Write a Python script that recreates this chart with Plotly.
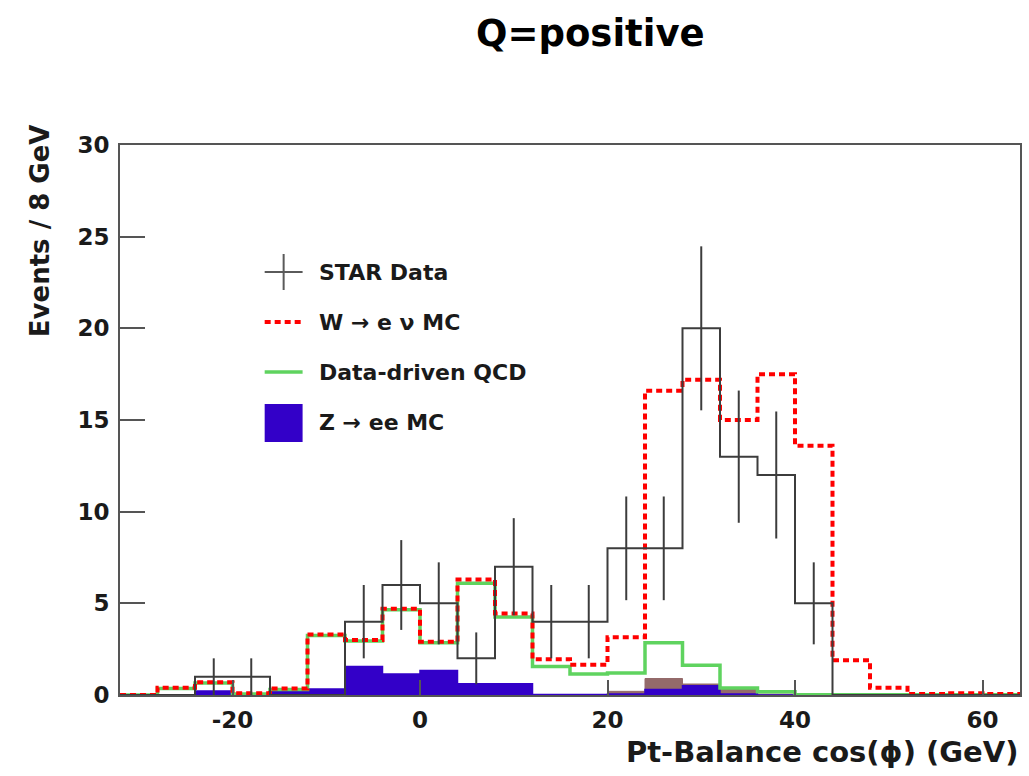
import numpy as np
import plotly.graph_objects as go

# 4 GeV bins from -32 to 64 GeV
bin_edges = [-32, -28, -24, -20, -16, -12, -8, -4, 0, 4, 8, 12, 16, 20,
             24, 28, 32, 36, 40, 44, 48, 52, 56, 60, 64]

star_data = [0, 0, 1, 1, 0, 0, 4, 6, 5, 2, 7, 4, 4, 8, 8, 20, 13, 12, 5, 0, 0, 0, 0, 0]
w_enu_mc = [0, 0.4, 0.7, 0.1, 0.35, 3.3, 3.0, 4.7, 2.9, 6.3, 4.45, 1.95, 1.65, 3.15,
            16.6, 17.2, 15.0, 17.5, 13.6, 1.9, 0.4, 0.05, 0.1, 0.05]
qcd_data_driven = [0, 0.35, 0.65, 0.05, 0.3, 3.25, 2.95, 4.65, 2.85, 6.1, 4.25, 1.55, 1.15, 1.2,
                   2.85, 1.62, 0.38, 0.18, 0.02, 0.02, 0.02, 0.02, 0.02, 0.02]
z_ee_mc = [0, 0, 0.22, 0, 0.25, 0.33, 1.55, 1.15, 1.33, 0.62, 0.62, 0.03, 0.03, 0.05,
           0.3, 0.5, 0.05, 0, 0, 0, 0, 0, 0, 0]
other_mc = [0, 0, 0, 0, 0, 0, 0, 0, 0, 0, 0, 0, 0, 0.2,
            0.9, 0.6, 0.3, 0.05, 0, 0, 0, 0, 0, 0]

x_tick_vals = [-20, 0, 20, 40, 60]
x_tick_text = ["-20", "0", "20", "40", "60"]
y_tick_vals = [0, 5, 10, 15, 20, 25, 30]

FONT = "DejaVu Sans"
AXIS_GREY = "#555555"

# plot area in pixels (for placing legend and titles)
W, H = 1029, 776
L, R, T, B = 120, 1022, 145, 695


def px_x(p):
    return (p - L) / (R - L)


def px_y(p):
    return (B - p) / (B - T)


def step(vals):
    return bin_edges, list(vals) + [vals[-1]]


fig = go.Figure()

# filled MC components
sx, sy = step(other_mc)
fig.add_trace(go.Scatter(x=sx, y=sy, mode="lines", line_shape="hv",
                         line=dict(color="#946a6a", width=1), fill="tozeroy",
                         fillcolor="#946a6a", showlegend=False, hoverinfo="skip"))
sx, sy = step(z_ee_mc)
fig.add_trace(go.Scatter(x=sx, y=sy, mode="lines", line_shape="hv",
                         line=dict(color="#3300c8", width=1.5), fill="tozeroy",
                         fillcolor="#3300c8", name="Z → ee MC", showlegend=False))

# QCD and W outlines
sx, sy = step(qcd_data_driven)
fig.add_trace(go.Scatter(x=sx, y=sy, mode="lines", line_shape="hv",
                         line=dict(color="#5fd35f", width=3.5),
                         name="Data-driven QCD", showlegend=False))
sx, sy = step(w_enu_mc)
fig.add_trace(go.Scatter(x=sx, y=sy, mode="lines", line_shape="hv",
                         line=dict(color="#ff0000", width=4, dash="6px,4px"),
                         name="W → e ν MC", showlegend=False))

# data histogram outline + sqrt(N) error bars
sx, sy = step(star_data)
fig.add_trace(go.Scatter(x=sx, y=sy, mode="lines", line_shape="hv",
                         line=dict(color="#3c3c3c", width=2),
                         showlegend=False, hoverinfo="skip"))
edges = np.array(bin_edges, dtype=float)
centers = 0.5 * (edges[:-1] + edges[1:])
counts = np.array(star_data, dtype=float)
nz = counts > 0
fig.add_trace(go.Scatter(x=centers[nz], y=counts[nz], mode="markers",
                         marker=dict(size=1, color="rgba(0,0,0,0)"),
                         error_y=dict(type="data", array=np.sqrt(counts[nz]),
                                      width=0, thickness=2, color="#3c3c3c"),
                         name="STAR Data", showlegend=False))

# legend drawn in the upper-left of the frame
leg_x0, leg_x1, leg_text_x = 265, 303, 317
rows = [272, 322, 372, 423]
shapes = [
    dict(type="line", xref="paper", yref="paper", x0=px_x(leg_x0), x1=px_x(leg_x1),
         y0=px_y(rows[0]), y1=px_y(rows[0]), line=dict(color="#5a5a5a", width=2)),
    dict(type="line", xref="paper", yref="paper", x0=px_x(284), x1=px_x(284),
         y0=px_y(254), y1=px_y(290), line=dict(color="#5a5a5a", width=2)),
    dict(type="line", xref="paper", yref="paper", x0=px_x(leg_x0), x1=px_x(leg_x1),
         y0=px_y(rows[1]), y1=px_y(rows[1]),
         line=dict(color="#ff0000", width=4, dash="6px,4px")),
    dict(type="line", xref="paper", yref="paper", x0=px_x(leg_x0), x1=px_x(leg_x1),
         y0=px_y(rows[2]), y1=px_y(rows[2]), line=dict(color="#5fd35f", width=3.5)),
    dict(type="rect", xref="paper", yref="paper", x0=px_x(leg_x0), x1=px_x(leg_x1),
         y0=px_y(404), y1=px_y(442), line=dict(color="#3300c8", width=0),
         fillcolor="#3300c8"),
]
labels = ["STAR Data", "W → e ν MC", "Data-driven QCD", "Z → ee MC"]
annotations = []
for lab, yy in zip(labels, rows):
    annotations.append(dict(text=lab, xref="paper", yref="paper", x=px_x(leg_text_x),
                            y=px_y(yy), xanchor="left", yanchor="middle", showarrow=False,
                            font=dict(family=FONT, size=22, color="#1a1a1a", weight="bold")))

# titles
annotations.append(dict(text="Q=positive", xref="paper", yref="paper", x=px_x(592),
                        y=px_y(34), xanchor="center", yanchor="middle", showarrow=False,
                        font=dict(family=FONT, size=37, color="black", weight="bold")))
annotations.append(dict(text="Events / 8 GeV", xref="paper", yref="paper", x=px_x(40),
                        y=px_y(231), xanchor="center", yanchor="middle", showarrow=False,
                        textangle=-90,
                        font=dict(family=FONT, size=26, color="#1a1a1a", weight="bold")))
annotations.append(dict(text="Pt-Balance cos(ϕ) (GeV)", xref="paper", yref="paper",
                        x=1.0, y=px_y(752), xanchor="right", yanchor="middle",
                        showarrow=False,
                        font=dict(family=FONT, size=29, color="#1a1a1a", weight="bold")))

fig.update_layout(
    width=W, height=H,
    margin=dict(l=L, r=W - R, t=T, b=H - B, pad=0),
    paper_bgcolor="white", plot_bgcolor="white",
    showlegend=False,
    shapes=shapes, annotations=annotations,
    xaxis=dict(range=[-32, 64], tickvals=x_tick_vals, ticktext=x_tick_text,
               ticks="inside", ticklen=15,
               tickwidth=2, tickcolor=AXIS_GREY, showgrid=False, zeroline=False,
               showline=True, linecolor=AXIS_GREY, linewidth=2, mirror=True,
               ticklabelstandoff=3,
               tickfont=dict(family=FONT, size=23, color="#1a1a1a", weight="bold")),
    yaxis=dict(range=[0, 30], tickvals=y_tick_vals, ticks="inside", ticklen=25,
               tickwidth=2, tickcolor=AXIS_GREY, showgrid=False, zeroline=False,
               showline=True, linecolor=AXIS_GREY, linewidth=2, mirror=True,
               ticklabelstandoff=4,
               tickfont=dict(family=FONT, size=23, color="#1a1a1a", weight="bold")),
)

fig.write_html("out.html")
